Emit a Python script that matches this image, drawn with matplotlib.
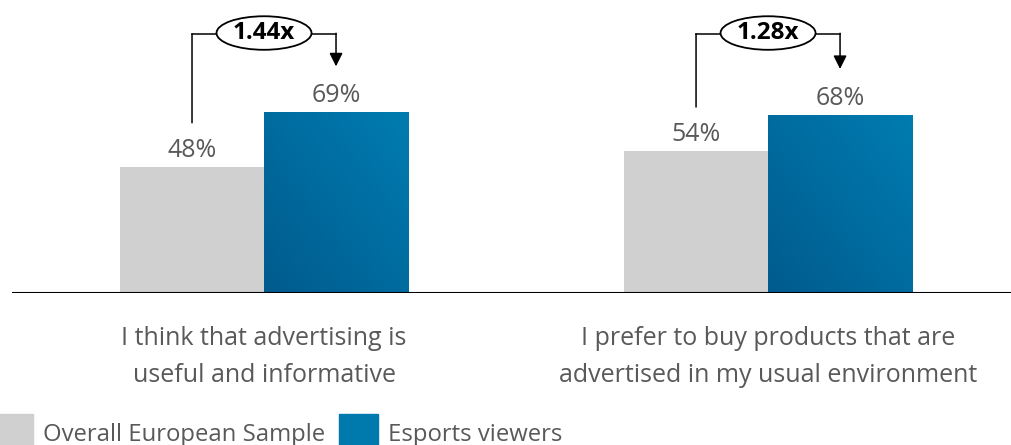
import matplotlib
matplotlib.use("Agg")
import matplotlib.pyplot as plt
import numpy as np
from matplotlib.patches import Ellipse, Rectangle
from matplotlib.colors import LinearSegmentedColormap
from matplotlib.transforms import blended_transform_factory

plt.rcParams['font.family'] = ['Open Sans', 'DejaVu Sans']

categories = ["I think that advertising is\nuseful and informative",
              "I prefer to buy products that are\nadvertised in my usual environment"]
series_names = ["Overall European Sample", "Esports viewers"]
overall = [48, 54]
esports = [69, 68]
multipliers = ["1.44x", "1.28x"]

W, H = 1012, 445
fig = plt.figure(figsize=(W / 100, H / 100), dpi=100)
ax = fig.add_axes([12 / W, 1 - 293 / H, 1000 / W, 293 / H])
ax.set_xlim(-0.5, 1.484)
ax.set_ylim(0, 111.8)
ax.axis('off')

# pixel-coordinate overlay axes (y downward)
lax = fig.add_axes([0, 0, 1, 1], zorder=-1)
lax.set_xlim(0, W)
lax.set_ylim(H, 0)
lax.axis('off')
xpix = blended_transform_factory(ax.transData, lax.transData)

gray = '#d0d0d0'
blue = '#0079ad'
bw = 0.2857
x = np.arange(len(categories))
txtcol = '#595959'

cmap = LinearSegmentedColormap.from_list('b', ['#005b8e', '#007cb0'])
grad = np.add.outer(np.linspace(0, 1, 50), np.linspace(0, 1, 50)) / 2

ytop = 98.9
for i in range(len(categories)):
    xg = x[i] - bw / 2
    xb = x[i] + bw / 2
    ax.bar(xg, overall[i], width=bw, color=gray, zorder=2)
    b = ax.bar(xb, esports[i], width=bw, color=blue, zorder=2)[0]
    im = ax.imshow(grad, cmap=cmap, origin='lower', aspect='auto',
                   extent=[xb - bw / 2, xb + bw / 2, 0, esports[i]], zorder=3)
    im.set_clip_path(b)
    for xv, v in ((xg, overall[i]), (xb, esports[i])):
        ax.annotate(f"{v}%", xy=(xv, v), xytext=(0, 10), textcoords='offset pixels',
                    ha='center', va='baseline', fontsize=18, color=txtcol,
                    annotation_clip=False)
    # bracket annotation
    ax.annotate('', xy=(xg, overall[i]), xytext=(xg, ytop),
                arrowprops=dict(arrowstyle='-', color='black', lw=1.1,
                                shrinkA=0, shrinkB=32),
                annotation_clip=False, zorder=4)
    ax.plot([xg, xb], [ytop, ytop], color='black', lw=1.1, clip_on=False, zorder=4)
    ax.annotate('', xy=(xb, esports[i]), xytext=(xb, ytop + 0.2),
                arrowprops=dict(arrowstyle='-|>', color='black', lw=1.1,
                                mutation_scale=20, shrinkA=0, shrinkB=33),
                annotation_clip=False, zorder=4)
    ell = Ellipse((x[i], ytop + 0.3), width=0.1885, height=12.8, facecolor='white',
                  edgecolor='black', lw=1.3, clip_on=False, zorder=5)
    ax.add_patch(ell)
    ax.text(x[i], ytop + 0.3, multipliers[i], ha='center', va='center', fontsize=17.5,
            fontweight='bold', color='black', zorder=6)
    for k, line in enumerate(categories[i].split('\n')):
        ax.text(x[i], 345 + 37 * k, line, transform=xpix, ha='center', va='baseline',
                fontsize=18, color=txtcol)

ax.axhline(0, color='black', lw=1.5, zorder=4, xmin=0, xmax=1)

# legend
lx = -6
for name, col in zip(series_names, [gray, blue]):
    lax.add_patch(Rectangle((lx, 414), 39, 39, color=col))
    t = lax.text(lx + 49, 441, name, va='baseline', ha='left', fontsize=17.2, color=txtcol)
    fig.canvas.draw()
    bb = t.get_window_extent()
    lx = bb.x1 + 14

fig.savefig('out.png', dpi=100)
